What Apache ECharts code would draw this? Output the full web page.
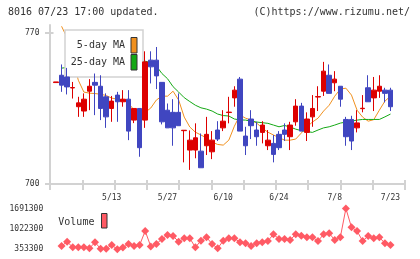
<!DOCTYPE html>
<html>
<head>
<meta charset="utf-8">
<script src="https://cdn.jsdelivr.net/npm/echarts@6/dist/echarts.min.js"></script>
<style>
  html, body { margin: 0; padding: 0; background: #fff; }
  #chart { width: 420px; height: 259px; }
</style>
</head>
<body>
<div id="chart"></div>
<script>
// 日付（61営業日）
const dates = ['4/24','4/25','4/26','4/30','5/1','5/2','5/7','5/8','5/9','5/10',
  '5/13','5/14','5/15','5/16','5/17','5/20','5/21','5/22','5/23','5/24',
  '5/27','5/28','5/29','5/30','5/31','6/3','6/4','6/5','6/6','6/7',
  '6/10','6/11','6/12','6/13','6/14','6/17','6/18','6/19','6/20','6/21',
  '6/24','6/25','6/26','6/27','6/28','7/1','7/2','7/3','7/4','7/5',
  '7/8','7/9','7/10','7/11','7/12','7/16','7/17','7/18','7/19','7/22','7/23']

const open = [746.8,750.2,749.4,744.3,735.6,733.6,742.8,746.9,745.1,740.2,
  734.8,741.0,737.9,739.1,729.4,734.8,729.4,757.2,757.2,746.9,
  734.0,733.0,733.0,724.5,715.5,715.5,715.0,717.5,714.7,724.8,
  725.8,732.9,739.7,748.4,722.0,729.9,724.8,723.7,717.5,718.6,
  722.8,724.8,721.7,728.6,735.9,723.7,730.9,740.1,742.8,750.2,
  746.7,745.1,729.7,729.7,725.8,734.7,744.4,739.7,742.8,743.3,743.3]
const close = [747.1,745.6,744.8,744.5,737.4,739.1,745.1,745.6,734.8,730.9,
  738.2,737.9,739.1,724.3,734.8,716.6,756.4,754.1,749.9,728.6,
  725.8,725.8,726.8,724.7,720.1,721.2,707.3,722.8,720.1,720.6,
  728.9,733.1,743.3,724.3,717.5,726.8,721.7,727.1,720.1,713.5,
  716.6,722.8,727.1,735.9,724.3,729.9,734.8,740.3,752.1,741.8,
  748.4,739.1,721.7,719.7,728.1,734.9,737.9,743.3,745.1,741.8,735.6]
const low = [746.8,742.5,741.3,739.4,730.9,730.9,734.0,731.7,729.4,725.8,
  728.6,728.6,735.6,720.1,728.0,712.4,725.8,746.4,743.8,727.4,
  725.8,717.5,726.8,709.8,706.3,711.7,707.3,713.2,711.3,719.7,
  724.3,727.9,735.6,724.3,713.2,720.6,717.5,718.6,715.5,709.8,
  715.5,719.7,715.5,726.8,724.3,719.7,726.3,733.6,740.6,741.8,
  742.8,735.6,717.5,715.5,723.7,733.0,737.9,733.6,739.7,737.6,733.6]
const high = [747.1,755.2,753.6,747.1,740.2,741.8,748.4,751.0,750.2,741.8,
  740.6,742.5,743.3,743.3,734.8,734.8,761.3,761.3,763.3,746.9,
  737.1,739.1,741.8,724.7,724.6,727.9,723.2,730.9,724.3,728.9,
  734.0,740.2,745.1,749.4,726.3,734.0,728.6,728.9,724.8,722.5,
  724.3,727.9,728.6,739.1,737.4,733.0,741.0,745.1,756.4,755.2,
  752.1,745.1,730.9,731.4,734.0,741.0,750.2,749.4,750.2,744.4,744.4]

// 移動平均
const ma5 = ['-',772.9,767.5,758.0,747.9,742.4,741.9,741.7,741.4,740.8,
  739.6,739.1,738.9,737.3,734.0,732.2,733.0,735.0,738.7,740.5,
  740.5,742.8,738.7,730.8,726.2,723.8,722.5,721.1,719.2,718.1,
  717.8,720.1,726.6,731.7,730.3,729.4,728.0,725.7,723.8,722.5,
  721.3,720.1,720.1,720.6,723.4,726.2,728.5,730.3,733.6,736.3,
  740.5,743.8,744.2,741.0,734.0,730.8,728.9,729.6,734.0,738.2,740.5]
const ma25 = ['-',753.5,753.8,754.0,754.3,754.2,754.5,754.9,755.1,755.4,
  755.5,755.8,756.0,756.1,756.3,756.5,756.7,756.0,754.5,751.0,
  748.6,744.9,742.4,739.8,738.0,736.3,735.1,734.5,733.6,732.2,
  731.5,731.3,729.9,729.5,729.4,728.9,728.5,728.2,727.9,727.1,
  726.3,726.9,726.2,725.2,724.5,724.1,723.7,724.8,725.8,726.3,
  727.1,728.0,728.5,728.9,729.4,729.7,729.7,729.7,729.7,730.9,732.2]

// 出来高
const volume = ['-',461000,602000,419000,419000,419000,386000,583000,370000,370000,
  494000,353300,410000,527000,461000,494000,953000,445000,527000,691000,
  822000,789000,602000,714000,714000,419000,635000,747000,527000,386000,
  635000,714000,714000,583000,550000,461000,550000,583000,625000,845000,
  691000,691000,658000,845000,800000,747000,747000,625000,845000,878000,
  658000,747000,1691300,1075000,953000,625000,789000,714000,747000,550000,494000]

const priceTicks = [700, 770]
const volumeTicks = [353300, 1022300, 1691300]

const candleData = dates.map((d, i) => [open[i], close[i], low[i], high[i]])

const mono = '"DejaVu Sans Mono", monospace'
const axisGray = '#d2d2d2'
const red = '#dd0000'
const blue = '#4046c0'
const orange = '#f0901e'
const green = '#14a814'
const volColor = '#ff5a64'

// 枠のグリッドと描画グリッド
const frame = { left: 50, right: 15, top: 25, bottom: 75.5 }
const band = 5.575
const plotLeft = 56 - band / 2
const plotRight = 420 - (plotLeft + band * dates.length)

const option = {
  animation: false,
  grid: [
    { left: frame.left, right: frame.right, top: frame.top, bottom: frame.bottom },
    { left: plotLeft, right: plotRight, top: frame.top, bottom: frame.bottom },
    { left: plotLeft, right: plotRight, top: 208.5, bottom: 259 - 249.3 }
  ],
  xAxis: [
    {
      gridIndex: 0, type: 'value', min: 0, max: 11, interval: 1,
      axisLine: { show: true, onZero: false, lineStyle: { color: axisGray, width: 2 } },
      axisTick: { show: true, length: 6.5, lineStyle: { color: axisGray, width: 2 } },
      axisLabel: { show: false }, splitLine: { show: false }
    },
    {
      gridIndex: 0, type: 'value', min: 0, max: 11, interval: 1, position: 'bottom',
      axisLine: { show: false },
      axisTick: { show: true, inside: true, length: 3.5, lineStyle: { color: axisGray, width: 2 } },
      axisLabel: { show: false }, splitLine: { show: false }
    },
    {
      gridIndex: 1, type: 'category', data: dates, boundaryGap: true,
      axisLine: { show: false }, axisTick: { show: false }, splitLine: { show: false },
      axisLabel: {
        interval: (idx) => idx > 0 && idx % 10 === 0,
        margin: 10, fontSize: 8, fontFamily: mono, color: '#333'
      }
    },
    {
      gridIndex: 2, type: 'category', data: dates, boundaryGap: true,
      axisLine: { show: false }, axisTick: { show: false },
      axisLabel: { show: false }, splitLine: { show: false }
    }
  ],
  yAxis: [
    {
      gridIndex: 0, type: 'value', min: 700, max: 773.5,
      axisLine: { show: true, lineStyle: { color: axisGray, width: 2 } },
      axisTick: { show: true, length: 5, customValues: priceTicks, lineStyle: { color: axisGray, width: 2 } },
      axisLabel: { customValues: priceTicks, margin: 10.5, fontSize: 8, fontFamily: mono, color: '#333' },
      splitLine: { show: false }
    },
    {
      gridIndex: 0, type: 'value', min: 700, max: 773.5, position: 'left',
      axisLine: { show: false },
      axisTick: { show: true, inside: true, length: 3.5, customValues: priceTicks, lineStyle: { color: axisGray, width: 2 } },
      axisLabel: { show: false }, splitLine: { show: false }
    },
    {
      gridIndex: 1, type: 'value', min: 700, max: 773.5,
      axisLine: { show: false }, axisTick: { show: false },
      axisLabel: { show: false }, splitLine: { show: false }
    },
    {
      gridIndex: 2, type: 'value', min: 353300, max: 1691300,
      axisLine: { show: false }, axisTick: { show: false }, splitLine: { show: false },
      axisLabel: {
        customValues: volumeTicks, margin: 10, fontSize: 8, fontFamily: mono, color: '#333',
        formatter: (v) => String(v)
      }
    }
  ],
  series: [
    {
      type: 'candlestick', xAxisIndex: 2, yAxisIndex: 2, z: 3,
      barWidth: 5, data: candleData,
      itemStyle: { color: red, color0: blue, borderColor: red, borderColor0: blue, borderWidth: 1 }
    },
    {
      type: 'line', xAxisIndex: 2, yAxisIndex: 2, z: 1, data: ma5,
      showSymbol: false, lineStyle: { color: orange, width: 1 }
    },
    {
      type: 'line', xAxisIndex: 2, yAxisIndex: 2, z: 1, data: ma25,
      showSymbol: false, lineStyle: { color: green, width: 1 }
    },
    {
      type: 'line', xAxisIndex: 3, yAxisIndex: 3, data: volume,
      symbol: 'diamond', symbolSize: 8, showSymbol: true, showAllSymbol: true,
      itemStyle: { color: volColor }, lineStyle: { color: volColor, width: 1 }
    }
  ],
  graphic: [
    { type: 'text', x: 8, y: 12.5, style: { text: '8016 07/23 17:00 updated.', font: '10px ' + mono, fill: '#333', verticalAlign: 'middle' } },
    { type: 'text', x: 410, y: 12.5, style: { text: '(C)https://www.rizumu.net/', font: '10px ' + mono, fill: '#333', align: 'right', verticalAlign: 'middle' } },
    // 凡例ボックス
    { type: 'rect', z: 2, shape: { x: 65, y: 30, width: 78, height: 47 }, style: { fill: '#fff', stroke: '#d2d2d2', lineWidth: 1.5 } },
    { type: 'text', z: 2, x: 125, y: 45.8, style: { text: '5-day MA', font: '10px ' + mono, fill: '#333', align: 'right', verticalAlign: 'middle' } },
    { type: 'text', z: 2, x: 125, y: 62.5, style: { text: '25-day MA', font: '10px ' + mono, fill: '#333', align: 'right', verticalAlign: 'middle' } },
    { type: 'rect', z: 2, shape: { x: 131, y: 37.5, width: 6, height: 15.5 }, style: { fill: orange, stroke: '#333', lineWidth: 1 } },
    { type: 'rect', z: 2, shape: { x: 131, y: 54.5, width: 6, height: 15.5 }, style: { fill: green, stroke: '#333', lineWidth: 1 } },
    // 出来高の凡例
    { type: 'text', x: 58.3, y: 222.5, style: { text: 'Volume', font: '10px ' + mono, fill: '#333', verticalAlign: 'middle' } },
    { type: 'rect', shape: { x: 101.5, y: 213.5, width: 5.5, height: 14.5 }, style: { fill: volColor, stroke: '#333', lineWidth: 1 } }
  ]
}

const chart = echarts.init(document.getElementById('chart'))
chart.setOption(option)
</script>
</body>
</html>
